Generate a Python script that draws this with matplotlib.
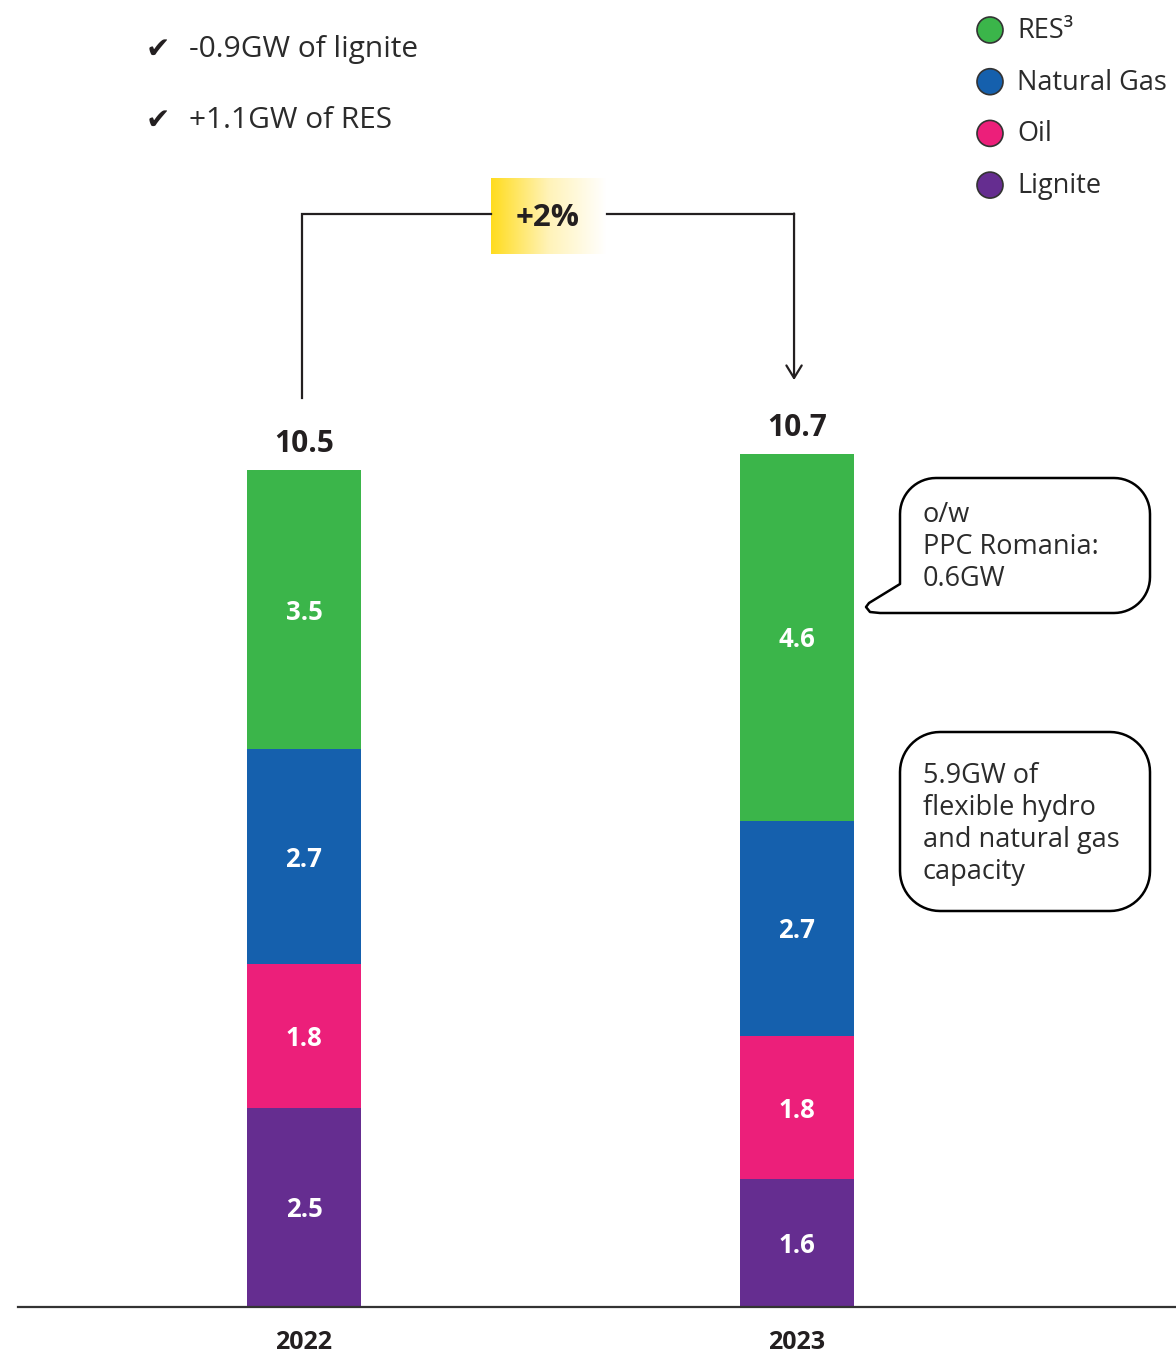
import numpy as np
import matplotlib
matplotlib.use('Agg')
from matplotlib import pyplot as plt
from matplotlib.path import Path
from matplotlib.patches import PathPatch, Circle
from matplotlib.colors import LinearSegmentedColormap

plt.rcParams['font.family'] = ['Open Sans', 'DejaVu Sans']

# data
years = ['2022', '2023']
lignite = [2.5, 1.6]
oil = [1.8, 1.8]
gas = [2.7, 2.7]
res = [3.5, 4.6]
totals = [10.5, 10.7]
change_label = '+2%'
notes = ['-0.9GW of lignite', '+1.1GW of RES']
legend_labels = ['RES\u00b3', 'Natural Gas', 'Oil', 'Lignite']

colors = {'RES': '#3bb54a', 'Natural Gas': '#1560ad', 'Oil': '#ec1f7a', 'Lignite': '#652d90'}
dark = '#231f20'
txt = '#2b2b2b'

W, H = 1176, 1357
fig = plt.figure(figsize=(W / 100, H / 100), dpi=100)

# main axes: bars in data units
ax = fig.add_axes([0, 0, 1, 1])
ppu = 79.7            # pixels per GW
base_px = 1307        # baseline from top
xc0, xstep = 304, 493 # bar centre of first year, spacing
ax.set_ylim(-(H - base_px) / ppu, base_px / ppu)
ax.set_xlim(-xc0 / xstep, (W - xc0) / xstep)
ax.axis('off')

x = np.arange(len(years))
bw = 114 / xstep
series = [('Lignite', lignite), ('Oil', oil), ('Natural Gas', gas), ('RES', res)]
bottom = np.zeros(len(years))
for name, vals in series:
    vals = np.array(vals)
    ax.bar(x, vals, bw, bottom=bottom, color=colors[name], linewidth=0, zorder=2)
    for xi, b, v in zip(x, bottom, vals):
        ax.text(xi, b + v / 2 - 0.03, '%.1f' % v, ha='center', va='center', color='white',
                fontsize=18.5, fontweight='bold', zorder=3)
    bottom = bottom + vals

for xi, t in zip(x, totals):
    ax.text(xi, t + 0.33, '%.1f' % t, ha='center', va='center', color=dark,
            fontsize=21.5, fontweight='bold')

# baseline and year labels
ax.plot([-(xc0 - 18) / xstep, ax.get_xlim()[1]], [0, 0], color='#333333', lw=1.6, zorder=4)
for xi, yr in zip(x, years):
    ax.text(xi, -0.45, yr, ha='center', va='center', color=dark, fontsize=18, fontweight='bold')

# bracket with growth label
top_y = 13.71
left_x, right_x = x[0] - 0.004, x[1] - 0.006
box_x0, box_x1 = 0.379, 0.611
ax.plot([left_x, left_x, box_x0], [totals[0] + 0.9, top_y, top_y], color=dark, lw=1.6, solid_joinstyle='miter')
ax.plot([box_x1 + 0.004, right_x], [top_y, top_y], color=dark, lw=1.6)
ax.annotate('', xy=(right_x, totals[1] + 0.93), xytext=(right_x, top_y + 0.01),
            arrowprops=dict(arrowstyle='->,head_length=0.9,head_width=0.55', color=dark, lw=1.6,
                            shrinkA=0, shrinkB=0))
grad_cmap = LinearSegmentedColormap.from_list('yel', ['#ffdc1e', '#fff3b8', '#ffffff'])
grad = np.linspace(0, 1, 256).reshape(1, -1)
ax.imshow(grad, extent=[box_x0, box_x1, top_y - 0.5, top_y + 0.45], aspect='auto', cmap=grad_cmap, zorder=1)
ax.text((box_x0 + box_x1) / 2, top_y - 0.05, change_label, ha='center', va='center',
        color=dark, fontsize=22.5, fontweight='bold', zorder=3)
ax.set_xlim(-xc0 / xstep, (W - xc0) / xstep)
ax.set_ylim(-(H - base_px) / ppu, base_px / ppu)

# overlay in pixel coordinates for notes, legend and callouts
ov = fig.add_axes([0, 0, 1, 1])
ov.set_xlim(0, W)
ov.set_ylim(H, 0)
ov.axis('off')
ov.patch.set_alpha(0)

for i, n in enumerate(notes):
    yy = 50 + i * 71
    ov.text(146, yy, '\u2714', ha='left', va='center', fontsize=21, color=dark, family=['DejaVu Sans'])
    ov.text(189, yy, n, ha='left', va='center', fontsize=21.5, color=txt)

leg_colors = [colors['RES'], colors['Natural Gas'], colors['Oil'], colors['Lignite']]
for i, (lab, c) in enumerate(zip(legend_labels, leg_colors)):
    yy = 30 + i * 51.7
    ov.add_patch(Circle((990, yy), 13, facecolor=c, edgecolor='#333333', lw=1.2))
    ov.text(1017, yy + 1, lab, ha='left', va='center', fontsize=19.5, color=txt)


def arc(cx, cy, r, a0, a1, n=16):
    t = np.radians(np.linspace(a0, a1, n))
    return [(cx + r * np.cos(t_), cy + r * np.sin(t_)) for t_ in t]


def bubble(x0, y0, x1, y1, r, tail=None):
    # y grows downward in overlay coordinates
    pts = []
    pts += arc(x0 + r, y0 + r, r, 180, 270)       # top-left
    pts += arc(x1 - r, y0 + r, r, 270, 360)       # top-right
    pts += arc(x1 - r, y1 - r, r, 0, 90)          # bottom-right
    if tail is None:
        pts += arc(x0 + r, y1 - r, r, 90, 180)    # bottom-left
    else:
        pts += tail
    pts.append(pts[0])
    codes = [Path.MOVETO] + [Path.LINETO] * (len(pts) - 2) + [Path.CLOSEPOLY]
    return PathPatch(Path(pts, codes), facecolor='white', edgecolor='black', lw=1.8, joinstyle='round')


ov.add_patch(bubble(900, 478, 1150, 613, 36,
                    tail=[(880, 613), (870, 612), (866, 607), (869, 603), (900, 584)]))
for i, line in enumerate(['o/w', 'PPC Romania:', '0.6GW']):
    ov.text(923, 515 + i * 32, line, ha='left', va='center', fontsize=19.5, color=txt)

ov.add_patch(bubble(900, 732, 1150, 911, 40))
for i, line in enumerate(['5.9GW of', 'flexible hydro', 'and natural gas', 'capacity']):
    ov.text(923, 776 + i * 32, line, ha='left', va='center', fontsize=19.5, color=txt)

fig.savefig('out.png', dpi=100, facecolor='white')
